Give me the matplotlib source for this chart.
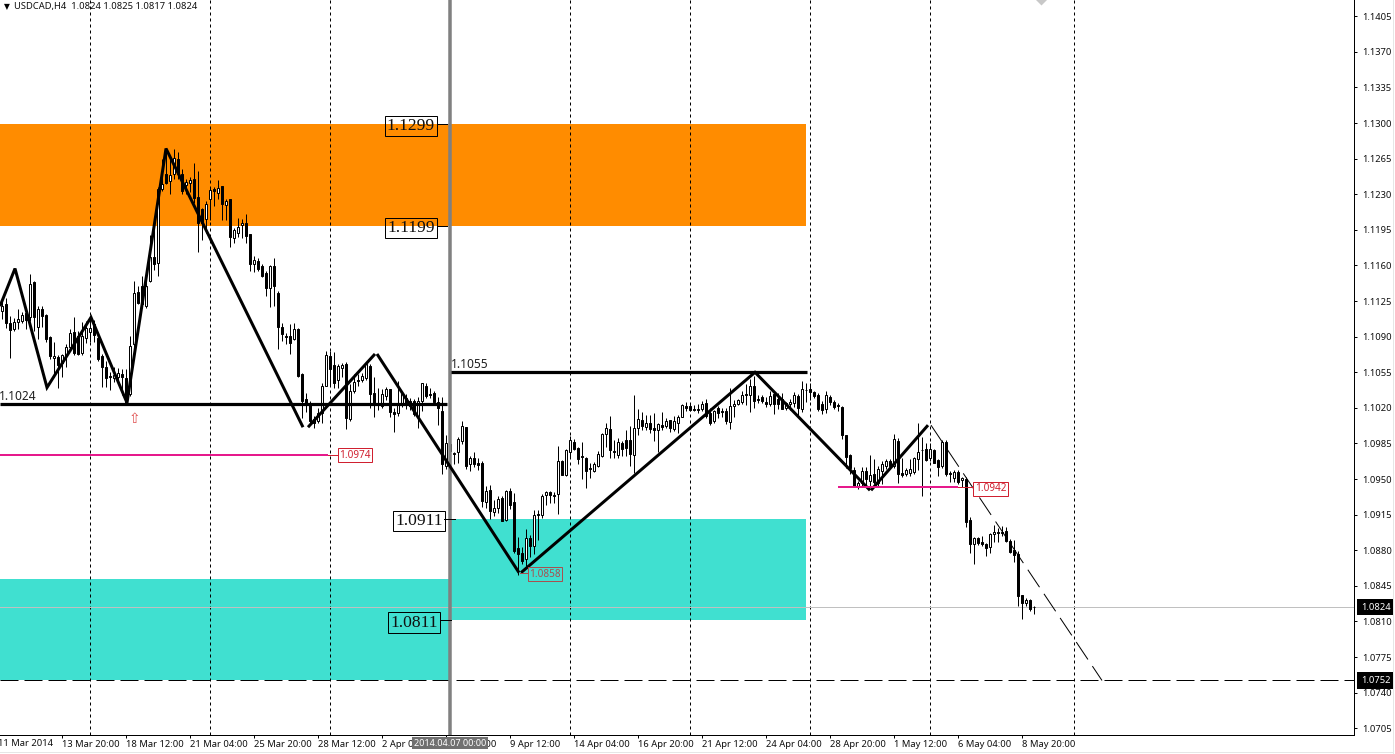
import numpy as np
import matplotlib
matplotlib.use("Agg")
import matplotlib.pyplot as plt
from matplotlib.lines import Line2D

# ---- data (prices x 10000) ----
opens = [11115,11122,11103,11098,11104,11105,11113,11109,11144,11100,
 11117,11111,11090,11069,11070,11064,11071,11080,11095,11091,
 11074,11089,11095,11102,11089,11071,11060,11051,11049,11050,
 11053,11049,11034,11083,11134,11140,11120,11145,11168,11162,
 11235,11250,11243,11250,11265,11250,11239,11241,11245,11227,
 11216,11206,11225,11235,11231,11238,11219,11225,11187,11192,
 11200,11202,11191,11161,11164,11159,11153,11138,11159,11133,
 11100,11091,11091,11088,11098,11053,11029,11025,11009,11007,
 11015,11042,11071,11062,11047,11059,11063,11009,11037,11047,
 11047,11049,11061,11035,11024,11022,11032,11039,11016,11015,
 11024,11030,11027,11027,11012,11027,11042,11034,11035,11026,
 11017,10963,10984,10975,10977,10987,11001,10965,10971,10966,
 10966,10927,10939,10918,10922,10931,10910,10938,10927,10882,
 10877,10871,10892,10884,10916,10915,10934,10937,10934,10935,
 10968,10954,10977,10986,10981,10973,10971,10961,10958,10963,
 10973,10994,10999,10978,10974,10985,10988,10988,10974,11000,
 11008,11001,11005,11000,10998,11003,11002,11008,10999,11005,
 11011,11022,11022,11019,11019,11019,11025,11015,11007,11020,
 11017,11017,11006,11022,11024,11026,11034,11033,11042,11029,
 11031,11026,11024,11034,11029,11029,11020,11024,11025,11032,
 11019,11038,11039,11036,11033,11024,11019,11031,11026,11023,
 11021,10993,10974,10959,10942,10946,10958,10948,10955,10946,
 10958,10963,10968,10963,10987,10956,10955,10956,10957,10970,
 10979,10980,10971,10979,10969,10963,10986,10956,10951,10957,
 10949,10950,10910,10886,10892,10888,10886,10883,10896,10898,
 10898,10899,10889,10880,10876,10836,10828,10831,10824]
highs = [11125,11128,11110,11108,11117,11114,11115,11152,11145,11120,
 11120,11112,11091,11085,11072,11073,11083,11098,11109,11096,
 11104,11105,11108,11106,11092,11073,11066,11055,11060,11059,
 11058,11058,11091,11145,11140,11150,11146,11190,11197,11237,
 11265,11274,11267,11275,11272,11255,11245,11247,11261,11253,
 11217,11223,11237,11237,11244,11238,11225,11225,11197,11207,
 11206,11211,11191,11169,11167,11161,11155,11160,11167,11135,
 11103,11094,11102,11103,11099,11054,11035,11027,11012,11020,
 11044,11076,11076,11075,11063,11064,11065,11043,11053,11053,
 11054,11065,11063,11050,11040,11039,11041,11039,11020,11046,
 11036,11034,11030,11029,11031,11044,11044,11040,11037,11031,
 11031,10993,10992,10977,10991,11007,11001,10973,10977,10971,
 10968,10943,10944,10929,10933,10933,10939,10941,10936,10893,
 10883,10901,10895,10920,10920,10935,10938,10938,10937,10983,
 10969,10980,10992,10989,10982,10986,10972,10966,10967,10978,
 10995,11005,11012,10988,10990,10987,10998,11002,11033,11019,
 11016,11013,11013,11015,11005,11016,11010,11008,11012,11013,
 11024,11026,11024,11023,11024,11027,11029,11020,11018,11022,
 11020,11020,11040,11028,11029,11037,11043,11048,11051,11033,
 11033,11031,11037,11037,11035,11035,11026,11029,11036,11034,
 11046,11044,11044,11037,11035,11027,11037,11033,11028,11025,
 11022,10993,10975,10962,10948,10962,10962,10974,10970,10963,
 10968,10970,10970,10994,10990,10971,10961,10970,10972,11005,
 10991,10985,10985,10980,10970,10988,10988,10958,10959,10959,
 10952,10952,10913,10893,10893,10894,10887,10897,10905,10902,
 10904,10903,10891,10890,10879,10836,10833,10832,10825]
lows = [11107,11099,11069,11096,11098,11103,11098,11105,11096,11088,
 11100,11085,11068,11050,11040,11050,11060,11078,11072,11072,
 11072,11084,11085,11085,11066,11041,11041,11038,11045,11047,
 11033,11024,11032,11080,11122,11118,11118,11144,11156,11150,
 11233,11240,11230,11245,11245,11230,11230,11232,11221,11173,
 11185,11192,11205,11218,11225,11205,11205,11178,11182,11188,
 11187,11182,11155,11154,11155,11149,11130,11119,11120,11078,
 11086,11083,11073,11087,11050,11010,11016,11005,11000,11005,
 11005,11042,11042,11040,11040,11050,10999,11007,11035,11042,
 11045,11047,11020,11011,11018,11020,11028,11011,10996,11012,
 11021,11019,11018,11012,11000,11017,11030,11030,11024,11003,
 10955,10960,10965,10965,10966,10984,10960,10958,10962,10959,
 10923,10922,10911,10914,10917,10909,10909,10921,10877,10856,
 10867,10865,10873,10876,10890,10912,10925,10926,10926,10916,
 10954,10953,10971,10979,10965,10950,10941,10951,10957,10962,
 10972,10982,10971,10971,10971,10973,10973,10963,10956,10993,
 10998,10998,10995,10987,10977,10998,11000,10996,10997,10995,
 11011,11017,11017,11017,11015,11017,11010,11003,11005,11010,
 11011,11004,10999,11011,11023,11024,11023,11016,11020,11025,
 11025,11021,11022,11014,11019,11019,11018,11018,11021,11012,
 11016,11026,11028,11030,11017,11014,11015,11023,11019,11017,
 10989,10961,10955,10942,10940,10942,10942,10942,10945,10942,
 10945,10960,10961,10961,10946,10952,10953,10953,10955,10959,
 10933,10968,10968,10966,10953,10961,10953,10947,10947,10945,
 10942,10903,10877,10867,10885,10884,10874,10877,10888,10888,
 10894,10888,10877,10868,10825,10812,10825,10820,10817]
closes = [11120,11103,11097,11104,11107,11111,11106,11142,11109,11117,
 11110,11088,11071,11071,11062,11072,11080,11094,11074,11073,
 11091,11099,11099,11092,11068,11060,11049,11050,11052,11054,
 11050,11025,11081,11133,11123,11122,11140,11168,11161,11235,
 11240,11241,11249,11266,11250,11233,11242,11244,11226,11202,
 11202,11220,11234,11233,11236,11220,11223,11188,11195,11198,
 11202,11189,11161,11165,11157,11150,11138,11159,11140,11100,
 11093,11090,11084,11098,11051,11027,11025,11007,11005,11015,
 11042,11072,11058,11044,11061,11062,11010,11037,11045,11046,
 11051,11063,11034,11024,11023,11034,11039,11016,11014,11025,
 11034,11024,11022,11014,11027,11044,11032,11033,11026,11020,
 10965,10985,10978,10976,10989,11002,10963,10971,10965,10964,
 10928,10938,10919,10922,10930,10909,10938,10925,10879,10876,
 10869,10892,10884,10915,10915,10933,10937,10934,10933,10968,
 10954,10979,10988,10980,10970,10972,10958,10960,10965,10975,
 10994,11000,10979,10977,10986,10980,10981,10975,11000,11009,
 11002,11005,10999,10998,11004,11001,11007,11000,11007,11011,
 11023,11020,11018,11018,11018,11024,11012,11005,11017,11015,
 11016,11007,11022,11024,11028,11033,11033,11042,11027,11028,
 11027,11024,11032,11024,11024,11019,11025,11026,11033,11020,
 11039,11038,11036,11032,11019,11018,11033,11026,11021,11022,
 10993,10972,10961,10942,10946,10958,10950,10954,10947,10960,
 10965,10968,10963,10989,10955,10954,10959,10960,10971,10977,
 10979,10969,10980,10966,10962,10986,10955,10955,10957,10947,
 10951,10908,10886,10892,10887,10886,10882,10896,10898,10897,
 10897,10889,10878,10875,10835,10828,10831,10822,10824]

# zigzag legs (bar number, price x 10000)
leg_a_bars = [-0.5, 3.25, 11.25, 22.25, 31.25, 41, 75.25]
leg_a_vals = [11120, 11157, 11040, 11109, 11025, 11275, 11001]
leg_b_bars = [76.5, 93.25]
leg_b_vals = [11001, 11073]
leg_c_bars = [93.75, 129.25]
leg_c_vals = [11073, 10858]
leg_d_bars = [129.75, 188.25, 217]
leg_d_vals = [10858, 11055, 10939]
leg_e_bars = [217.25, 231.5]
leg_e_vals = [10939, 11003]
thin_bars = [232.25, 275]
thin_vals = [11003, 10752]

separators = [22, 52, 82, 142, 172, 202, 232, 268]
now_bar = 112
time_tick_bars = list(range(15, 256, 16))
time_labels = ["13 Mar 20:00", "18 Mar 12:00", "21 Mar 04:00", "25 Mar 20:00",
               "28 Mar 12:00", "2 Apr 04:00", "4 Apr 20:00", "9 Apr 12:00",
               "14 Apr 04:00", "16 Apr 20:00", "21 Apr 12:00", "24 Apr 04:00",
               "28 Apr 20:00", "1 May 12:00", "6 May 04:00", "8 May 20:00"]
price_ticks = [1.1405, 1.1370, 1.1335, 1.1300, 1.1265, 1.1230, 1.1195, 1.1160,
               1.1125, 1.1090, 1.1055, 1.1020, 1.0985, 1.0950, 1.0915, 1.0880,
               1.0845, 1.0810, 1.0775, 1.0740, 1.0705]
header = "USDCAD,H4  1.0824 1.0825 1.0817 1.0824"

ORANGE = "#FF8C00"
TURQ = "#40E0D0"
PINK = "#E6198C"
RED = "#D02030"
PX = 0.72
FONT = "Noto Sans"
LABEL_SIZE = 6.75

o, h, l, c = [np.array(v) / 1e4 for v in (opens, highs, lows, closes)]
bars = np.arange(len(o))

fig = plt.figure(figsize=(13.95, 7.54), dpi=100, facecolor="white")
ax = fig.add_axes([0, 19 / 754, 1354 / 1395, 735 / 754])
ax.set_xlim(-0.5, 338)
ax.set_ylim(1.06984, 1.14210)
for s in ("left", "top"):
    ax.spines[s].set_visible(False)
for s in ("right", "bottom"):
    ax.spines[s].set_linewidth(PX)

# zones
ax.fill_between([-0.5, 201], 1.1199, 1.1299, color=ORANGE, lw=0, zorder=1)
ax.fill_between([-0.5, 112], 1.0752, 1.0852, color=TURQ, lw=0, zorder=1)
ax.fill_between([112, 201], 1.0811, 1.0911, color=TURQ, lw=0, zorder=1)

# separators
for b in separators:
    ax.axvline(b, color="black", lw=PX, ls=(0, (3, 3)), zorder=2)

# levels
ax.axhline(1.0824, color="#C0C0C0", lw=PX, zorder=2)
ax.axhline(1.0752, color="black", lw=PX, ls=(0, (18, 6)), zorder=2)

# candles
ax.vlines(bars, l, h, color="black", lw=PX, zorder=3)
up = c >= o
ax.bar(bars[up], (c - o)[up], bottom=o[up], width=0.5, facecolor="white",
       edgecolor="black", lw=PX, zorder=4)
ax.bar(bars[~up], (c - o)[~up], bottom=o[~up], width=0.5, facecolor="black",
       edgecolor="black", lw=PX, zorder=4)

# now-line
ax.axvline(now_bar, color="#808080", lw=3.5 * PX, zorder=5)

# zigzag
for xs, ys in ((leg_a_bars, leg_a_vals), (leg_b_bars, leg_b_vals),
               (leg_c_bars, leg_c_vals), (leg_d_bars, leg_d_vals),
               (leg_e_bars, leg_e_vals)):
    ax.plot(xs, np.array(ys) / 1e4, color="black", lw=3 * PX, zorder=6,
            solid_joinstyle="miter", solid_capstyle="butt")
ax.plot(thin_bars, np.array(thin_vals) / 1e4, color="black", lw=PX,
        ls=(0, (21, 8)), zorder=6)

# horizontal thick lines
ax.plot([-0.5, 111.25], [1.1024, 1.1024], color="black", lw=3.2 * PX, zorder=6,
        solid_capstyle="butt")
ax.plot([112.25, 201.25], [1.1055, 1.1055], color="black", lw=3.2 * PX, zorder=6,
        solid_capstyle="butt")
ax.text(-0.7, 1.10315, "1.1024", fontsize=8.6, family=FONT, ha="left", va="center",
        color="#202020", zorder=7)
ax.text(112.2, 1.10625, "1.1055", fontsize=8.6, family=FONT, ha="left", va="center",
        color="#202020", zorder=7)

# pink levels
ax.plot([-0.5, 81.5], [1.0974, 1.0974], color=PINK, lw=2 * PX, zorder=6,
        solid_capstyle="butt")
ax.plot([81.5, 84.5], [1.0974, 1.0974], color=RED, lw=PX, zorder=6)
ax.plot([209, 239], [1.0942, 1.0942], color=PINK, lw=2 * PX, zorder=6,
        solid_capstyle="butt")
ax.plot([239, 243], [1.0942, 1.0942], color=RED, lw=PX, zorder=6)
ax.plot([129.5, 131.5], [1.0858, 1.0858], color="#A05050", lw=PX, zorder=6)


def small_tag(bar, price, txt, col, face):
    ax.text(bar, price, txt, fontsize=7.2, family=FONT, color=col, ha="left",
            va="center", zorder=8,
            bbox=dict(boxstyle="square,pad=0.16", fc=face, ec=col, lw=PX))


small_tag(84.3, 1.09735, "1.0974", RED, "white")
small_tag(243.2, 1.09405, "1.0942", RED, "white")
small_tag(131.8, 1.08565, "1.0858", "#A85050", "none")


def big_tag(bar, price, txt, t0, t1):
    # serif label sits with its box centred on the level
    ax.text(bar, price - 0.0002, txt, fontsize=12.6, family="Liberation Serif",
            color="#101010", ha="right", va="center", zorder=8,
            bbox=dict(boxstyle="square,pad=0.12", fc="none", ec="black", lw=PX))
    ax.plot([t0, t1], [price, price], color="black", lw=PX, zorder=8)


big_tag(108.2, 1.1299, "1.1299", 108.8, 111.2)
big_tag(108.2, 1.1199, "1.1199", 108.8, 111.2)
big_tag(110.2, 1.0911, "1.0911", 110.5, 113.2)
big_tag(109.0, 1.0811, "1.0811", 109.5, 112.2)

# signal arrow and clipped diamond
ax.text(33, 1.1009, "\u21e7", fontsize=10, family="DejaVu Sans", color="#E05050",
        ha="center", va="center", zorder=8)
ax.plot([259.75], [1.14225], marker="D", ms=7, color="#C8C8C8", mec="none",
        zorder=3, clip_on=True)

# price axis
ax.yaxis.tick_right()
ax.set_yticks(price_ticks)
ax.set_yticklabels([f"{p:.4f}" for p in price_ticks], fontsize=LABEL_SIZE, family=FONT,
                   color="#101010")
ax.tick_params(axis="y", direction="out", length=3 * PX, width=PX, pad=3.5)

# time axis
ax.set_xticks(time_tick_bars)
ax.set_xticklabels(time_labels, fontsize=LABEL_SIZE, family=FONT, ha="left", color="#101010")
ax.tick_params(axis="x", direction="out", length=3 * PX, width=PX, pad=1.5)
ax.annotate("11 Mar 2014", xy=(-1, 0), xycoords=("data", "axes fraction"),
            xytext=(0, -8), textcoords="offset pixels", fontsize=LABEL_SIZE, family=FONT,
            ha="left", va="center", color="#101010", annotation_clip=False)
ax.annotate("2014.04.07 00:00", xy=(now_bar, 0), xycoords=("data", "axes fraction"),
            xytext=(0, -8), textcoords="offset pixels", fontsize=6.5, family=FONT,
            ha="center", va="center", color="white", annotation_clip=False, zorder=10,
            bbox=dict(boxstyle="square,pad=0.2", fc="#707070", ec="none"))

# price flags
for val in (1.0824, 1.0752):
    ax.annotate(f"{val:.4f}", xy=(1, val), xycoords=("axes fraction", "data"),
                xytext=(7, 0), textcoords="offset pixels", fontsize=LABEL_SIZE, family=FONT,
                color="white", ha="left", va="center", annotation_clip=False, zorder=10,
                bbox=dict(boxstyle="square,pad=0.4", fc="black", ec="none"))

# header
fig.text(4 / 1395, 1 - 7 / 754, "\u25bc", fontsize=5.5, family="DejaVu Sans", va="center",
         color="black")
fig.text(14 / 1395, 1 - 7 / 754, header, fontsize=LABEL_SIZE, family=FONT, va="center",
         color="#101010")

# window edge
fig.add_artist(Line2D([1393 / 1395, 1393 / 1395], [1 / 754, 1], color="#E6E6E6", lw=PX))
fig.add_artist(Line2D([0, 1393 / 1395], [2 / 754, 2 / 754], color="#E6E6E6", lw=PX))

fig.savefig("out.png", dpi=100, facecolor="white")
